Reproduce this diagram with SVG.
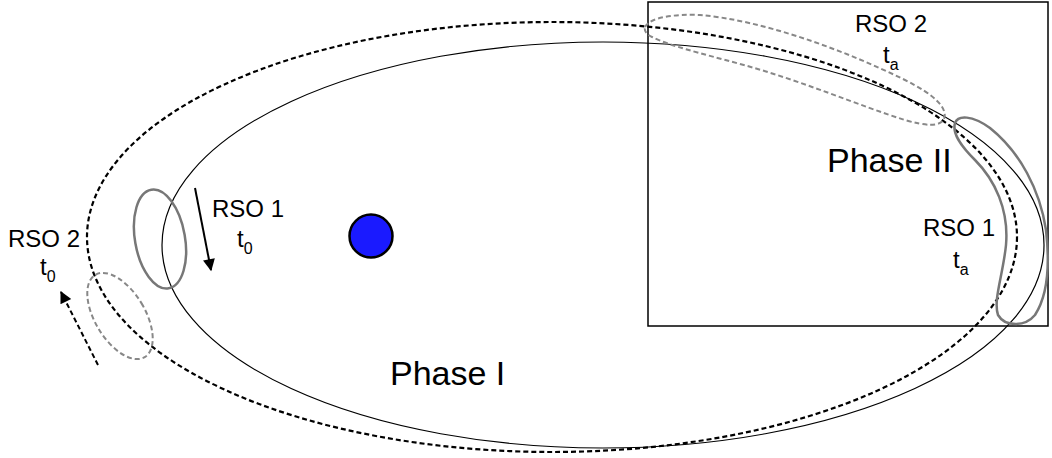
<svg xmlns="http://www.w3.org/2000/svg" width="1052" height="458" viewBox="0 0 1052 458">
<style>
.lbl{font-family:"Liberation Sans",Arial,sans-serif;font-size:24px;fill:#000}
.sub{font-size:16px}
.phase{font-family:"Liberation Sans",Arial,sans-serif;font-size:34px;fill:#000}
.orbit{fill:none;stroke:#000;stroke-width:1.2}
.orbitd{fill:none;stroke:#000;stroke-width:2.2;stroke-dasharray:5 3}
.rso{fill:none;stroke:#777;stroke-width:2.5}
.rsod{fill:none;stroke:#888;stroke-width:2;stroke-dasharray:5 3}
</style>
<defs>
<marker id="ah" viewBox="0 0 10 10" refX="9" refY="5" markerWidth="7" markerHeight="6" orient="auto" markerUnits="strokeWidth">
<path d="M0,0 L10,5 L0,10 Z" fill="#000"/>
</marker>
</defs>
<rect width="1052" height="458" fill="#fff"/>
<g id="phase2-box"><rect x="648" y="2" width="400" height="324" fill="none" stroke="#000" stroke-width="1.5"/></g>
<g id="orbits">
<ellipse class="orbit" cx="603" cy="245" rx="441" ry="203"/>
<ellipse class="orbitd" cx="552" cy="237" rx="465" ry="215"/>
</g>
<g id="earth"><circle cx="371" cy="236" r="21.5" fill="#1a1aff" stroke="#000" stroke-width="2.5"/></g>
<g id="rso1-t0"><ellipse class="rso" cx="160" cy="239" rx="25" ry="50" transform="rotate(-10 160 239)"/></g>
<g id="rso2-t0"><ellipse class="rsod" cx="120" cy="316" rx="25" ry="48" transform="rotate(-31 120 316)"/></g>
<g id="rso2-ta"><path class="rsod" d="M645,27 C650,17 675,14 700,15 C760,20 840,48 905,80 C935,95 948,108 944,119 C940,127 925,126 905,120 C860,106 800,80 740,64 C700,53 670,46 652,37 C646,34 644,31 645,27 Z"/></g>
<g id="rso1-ta"><path class="rso" d="M955,123 C958,115 972,115 990,128 C1020,152 1040,190 1046,230 C1050,265 1048,295 1035,315 C1025,327 1005,327 998,315 C993,300 1003,275 1006,245 C1009,210 995,180 975,160 C960,145 952,133 955,123 Z"/></g>
<g id="connectors">
<line x1="195" y1="188" x2="211" y2="270" stroke="#000" stroke-width="2" marker-end="url(#ah)"/>
<line x1="98" y1="365" x2="61" y2="292" stroke="#000" stroke-width="2" stroke-dasharray="5 3" marker-end="url(#ah)"/>
</g>
<g id="labels">
<text class="lbl" x="212" y="217">RSO 1</text>
<text class="lbl" x="237" y="247">t<tspan class="sub" dy="7">0</tspan></text>
<text class="lbl" x="8" y="247">RSO 2</text>
<text class="lbl" x="40" y="275">t<tspan class="sub" dy="7">0</tspan></text>
<text class="lbl" x="855" y="32">RSO 2</text>
<text class="lbl" x="883" y="63">t<tspan class="sub" dy="7">a</tspan></text>
<text class="lbl" x="923" y="236">RSO 1</text>
<text class="lbl" x="953" y="268">t<tspan class="sub" dy="7">a</tspan></text>
<text class="phase" x="827" y="172">Phase II</text>
<text class="phase" x="390" y="385">Phase I</text>
</g>
</svg>
